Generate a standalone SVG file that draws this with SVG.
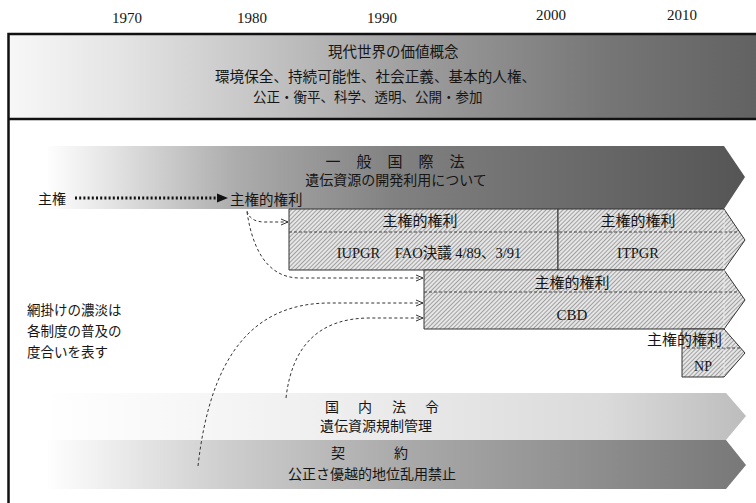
<svg xmlns="http://www.w3.org/2000/svg" width="756" height="503" viewBox="0 0 756 503">
<defs>
<style>
text{font-family:"Liberation Serif","Noto Sans CJK JP",serif;fill:#151515;}
.yr{font-size:15px;text-anchor:middle;}
.t14{font-size:14px;}
.mid{text-anchor:middle;}
.box{fill:url(#hatch);stroke:#333;stroke-width:1;}
.div{stroke:#444;stroke-width:1;stroke-dasharray:3 2;fill:none;}
.conn{stroke:#333;stroke-width:1;stroke-dasharray:3 2.5;fill:none;marker-end:url(#open);}
</style>
<linearGradient id="gHead" gradientUnits="userSpaceOnUse" x1="10" y1="0" x2="756" y2="0">
<stop offset="0" stop-color="#f7f7f7"/><stop offset="0.15" stop-color="#e4e4e4"/><stop offset="0.35" stop-color="#c2c2c2"/><stop offset="0.55" stop-color="#9c9c9c"/><stop offset="0.8" stop-color="#767676"/><stop offset="1" stop-color="#626262"/>
</linearGradient>
<linearGradient id="gLaw" gradientUnits="userSpaceOnUse" x1="45" y1="0" x2="745" y2="0">
<stop offset="0" stop-color="#ffffff"/><stop offset="0.1" stop-color="#e2e2e2"/><stop offset="0.27" stop-color="#adadad"/><stop offset="0.5" stop-color="#818181"/><stop offset="1" stop-color="#555555"/>
</linearGradient>
<linearGradient id="gDom" gradientUnits="userSpaceOnUse" x1="45" y1="0" x2="746" y2="0">
<stop offset="0" stop-color="#ffffff"/><stop offset="0.4" stop-color="#efefef"/><stop offset="0.8" stop-color="#dadada"/><stop offset="1" stop-color="#bdbdbd"/>
</linearGradient>
<linearGradient id="gCon" gradientUnits="userSpaceOnUse" x1="45" y1="0" x2="746" y2="0">
<stop offset="0" stop-color="#ffffff"/><stop offset="0.25" stop-color="#cfcfcf"/><stop offset="0.5" stop-color="#ababab"/><stop offset="1" stop-color="#787878"/>
</linearGradient>
<pattern id="hatch" width="3" height="3" patternUnits="userSpaceOnUse" patternTransform="rotate(45)">
<rect width="3" height="3" fill="#e6e6e6"/><line x1="0.5" y1="0" x2="0.5" y2="3" stroke="#a0a0a0" stroke-width="1"/>
</pattern>
<marker id="open" viewBox="0 0 8 8" refX="7" refY="4" markerWidth="8" markerHeight="8" markerUnits="userSpaceOnUse" orient="auto">
<path d="M0,1 L7,4 L0,7" fill="none" stroke="#333" stroke-width="1"/>
</marker>
</defs>

<g id="years">
<text class="yr" x="127" y="23">1970</text>
<text class="yr" x="252" y="23">1980</text>
<text class="yr" x="382" y="23">1990</text>
<text class="yr" x="551" y="20">2000</text>
<text class="yr" x="682" y="20">2010</text>
</g>

<g id="header">
<rect x="9" y="35" width="747" height="84" fill="url(#gHead)"/>
<text class="t14" x="328" y="57" style="font-size:14.5px">現代世界の価値概念</text>
<text class="t14" x="215" y="82" style="font-size:14.6px">環境保全、持続可能性、社会正義、基本的人権、</text>
<text class="t14" x="253" y="102" style="font-size:13.5px">公正・衡平、科学、透明、公開・参加</text>
</g>

<g id="frame">
<rect x="8.5" y="34" width="800" height="520" fill="none" stroke="#111" stroke-width="2.5"/>
<line x1="8" y1="119" x2="756" y2="119" stroke="#111" stroke-width="2.5"/>
</g>

<g id="general-law">
<polygon points="48,146 724,146 745,177 724,209 48,209" fill="url(#gLaw)"/>
<text class="t14 mid" x="333 364 395 426 457" y="167" style="font-size:15px">一般国際法</text>
<text class="t14 mid" x="396" y="185">遺伝資源の開発利用について</text>
</g>

<g id="sovereignty">
<text class="t14" x="38" y="204">主権</text>
<text class="t14" x="230" y="205" style="font-size:14.5px">主権的権利</text>
</g>

<g id="iupgr">
<polygon class="box" points="289,209 558,209 558,270 289,270"/>
<text class="t14 mid" x="420" y="226" style="font-size:15px">主権的権利</text>
<text class="t14 mid" x="429" y="258" style="font-size:14.5px">IUPGR　FAO決議 4/89、3/91</text>
</g>

<g id="itpgr">
<polygon class="box" points="558,209 724,209 745,240 724,270 558,270"/>
<text class="t14 mid" x="638" y="226" style="font-size:15px">主権的権利</text>
<text class="t14 mid" x="638" y="258" style="font-size:14.5px">ITPGR</text>
</g>
<line class="div" x1="289" y1="232" x2="739" y2="232"/>

<g id="cbd">
<polygon class="box" points="424,270 724,270 745,300 724,329 424,329"/>
<line class="div" x1="424" y1="292" x2="739" y2="292"/>
<text class="t14 mid" x="572" y="288" style="font-size:15px">主権的権利</text>
<text class="t14 mid" x="572" y="320" style="font-size:15px">CBD</text>
</g>

<g id="np">
<polygon class="box" points="682,329 724,329 745,353 724,377 682,377"/>
<line class="div" x1="682" y1="348" x2="741" y2="348"/>
<text class="t14" x="722" y="345" text-anchor="end" style="font-size:15px">主権的権利</text>
<text class="t14 mid" x="703" y="371" style="font-size:14px">NP</text>
</g>
<line x1="724" y1="210" x2="724" y2="376" stroke="#f2f2f2" stroke-width="1" stroke-dasharray="3 2"/>

<g id="note">
<text class="t14" x="27" y="315" style="font-size:13.5px">網掛けの濃淡は</text>
<text class="t14" x="27" y="336" style="font-size:13.5px">各制度の普及の</text>
<text class="t14" x="27" y="357" style="font-size:13.5px">度合いを表す</text>
</g>

<g id="domestic-law">
<polygon points="48,393 726,393 746,416 726,440 48,440" fill="url(#gDom)"/>
<text class="t14 mid" x="332 365 399 432" y="412">国内法令</text>
<text class="t14 mid" x="376" y="431">遺伝資源規制管理</text>
</g>

<g id="contract">
<polygon points="48,440 726,440 746,465 726,489 48,489" fill="url(#gCon)"/>
<text class="t14 mid" x="338 401" y="458">契約</text>
<text class="t14 mid" x="372" y="479">公正さ優越的地位乱用禁止</text>
</g>

<g id="connectors">
<line x1="75" y1="198" x2="219" y2="198" stroke="#111" stroke-width="3" stroke-dasharray="2 2.2"/>
<polygon points="217,193.5 228,198 217,202.5" fill="#111"/>
<path class="conn" d="M247,211 Q250,222 265,222 L288,222"/>
<path class="conn" d="M247,212 C252,245 265,278 300,278 L423,278"/>
<path class="conn" d="M198,466 C210,360 250,303 330,303 L423,303"/>
<path class="conn" d="M286,398 C292,345 320,318 370,318 L423,318"/>
</g>
</svg>
